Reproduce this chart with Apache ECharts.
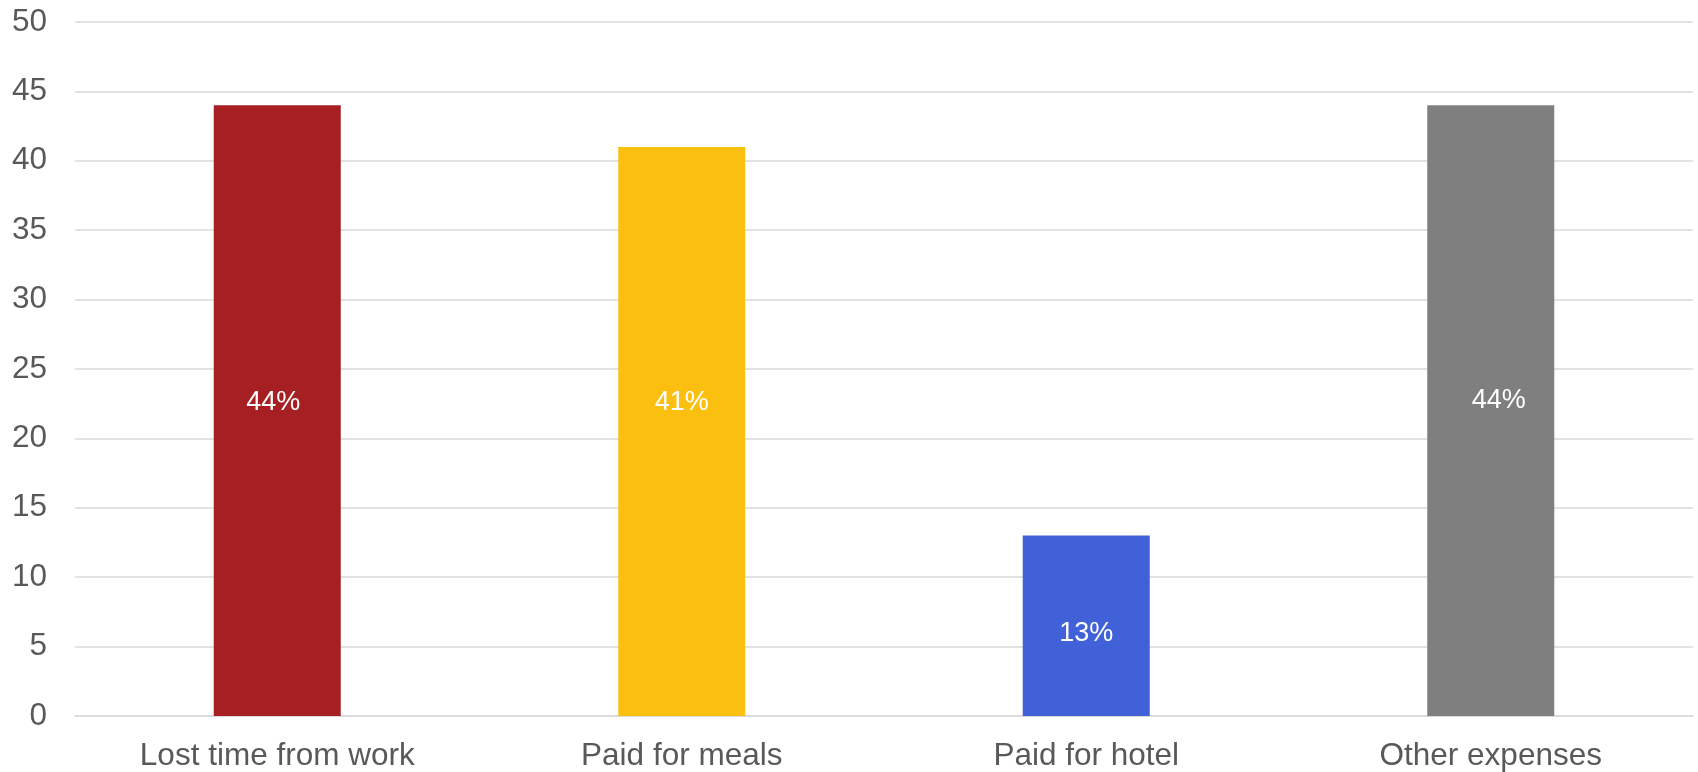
<!DOCTYPE html>
<html>
<head>
<meta charset="utf-8">
<script src="https://cdn.jsdelivr.net/npm/echarts@6/dist/echarts.min.js"></script>
<style>
  html, body { margin: 0; padding: 0; background: #fff; }
  #chart { width: 1698px; height: 772px; }
</style>
</head>
<body>
<div id="chart"></div>
<script>
  // categories and values
  const categories = ['Lost time from work', 'Paid for meals', 'Paid for hotel', 'Other expenses'];
  const values = [44, 41, 13, 44];
  const valueLabels = ['44%', '41%', '13%', '44%'];

  const barColors = ['#a61f22', '#fbbf10', '#4161d8', '#7f7f7f'];
  const labelOffsets = [[-4, -8], [0, -29], [0, 8], [8, -10]]; // label nudge from bar centre

  const myChart = echarts.init(document.getElementById('chart'));

  const option = {
    backgroundColor: '#fff',
    animation: false,
    grid: { left: 75, right: 5, top: 22, bottom: 55 },
    xAxis: {
      type: 'category',
      data: categories,
      axisLine: { show: true, lineStyle: { color: '#d9d9d9', width: 1.5 } },
      axisTick: { show: false },
      axisLabel: {
        color: '#595959',
        fontFamily: 'Liberation Sans, Arial, sans-serif',
        fontSize: 31.5,
        margin: 24
      }
    },
    yAxis: {
      type: 'value',
      min: 0,
      max: 50,
      interval: 5,
      axisLine: { show: false },
      axisTick: { show: false },
      splitLine: { lineStyle: { color: '#d9d9d9', width: 1.5 } },
      axisLabel: {
        color: '#595959',
        fontFamily: 'Liberation Sans, Arial, sans-serif',
        fontSize: 31.5,
        margin: 28
      }
    },
    series: [{
      type: 'bar',
      barWidth: '31.4%',
      data: values.map((v, i) => ({
        value: v,
        itemStyle: { color: barColors[i] },
        label: { offset: labelOffsets[i] }
      })),
      label: {
        show: true,
        position: 'inside',
        color: '#fff',
        fontFamily: 'Liberation Sans, Arial, sans-serif',
        fontSize: 27,
        formatter: p => valueLabels[p.dataIndex]
      }
    }]
  };

  myChart.setOption(option);
</script>
</body>
</html>
